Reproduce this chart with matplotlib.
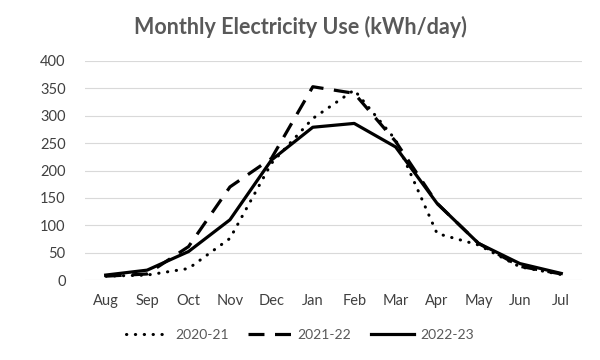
import matplotlib
matplotlib.use('Agg')
import matplotlib.pyplot as plt

# data
months = ['Aug', 'Sep', 'Oct', 'Nov', 'Dec', 'Jan', 'Feb', 'Mar', 'Apr', 'May', 'Jun', 'Jul']
y2021 = [7, 9, 21, 76, 213, 295, 347, 256, 85, 64, 24, 10]
y2122 = [7, 11, 61, 170, 222, 353, 341, 253, 140, 67, 25, 11]
y2223 = [9, 18, 52, 110, 219, 279, 286, 243, 140, 67, 30, 12]
yticks = [0, 50, 100, 150, 200, 250, 300, 350, 400]

plt.rcParams['font.family'] = ['Lato', 'DejaVu Sans']

fig = plt.figure(figsize=(6, 3.6), dpi=100)
ax = fig.add_axes([85 / 600, 1 - 280 / 360, 497 / 600, 219 / 360])

x = range(len(months))
ax.plot(x, y2021, color='black', lw=2.2, linestyle=(0, (0.1, 2.8)),
        dash_capstyle='round', label='2020-21')
ax.plot(x, y2122, color='black', lw=2.3, linestyle=(0, (5, 3.3)),
        label='2021-22')
ax.plot(x, y2223, color='black', lw=2.3, label='2022-23')

ax.set_xlim(-0.5, len(months) - 0.5)
ax.set_ylim(0, 400)
ax.set_yticks(yticks)
ax.set_xticks(list(x))
ax.set_xticklabels(months)
ax.yaxis.grid(True, color='#d9d9d9', lw=0.8)
ax.set_axisbelow(True)
for s in ax.spines.values():
    s.set_visible(False)
ax.tick_params(length=0, labelsize=10.5, labelcolor='#404040')
ax.tick_params(axis='x', pad=10)
ax.tick_params(axis='y', pad=14)

fig.suptitle('Monthly Electricity Use (kWh/day)', x=0.5, y=0.955,
             fontsize=15.5, fontweight='bold', color='#595959')

fig.legend(loc='center', bbox_to_anchor=(0.5, 1 - 335 / 360), ncol=3,
           frameon=False, fontsize=10, labelcolor='#595959',
           handlelength=3.1, columnspacing=1.4, handletextpad=0.45)

fig.savefig('out.png', dpi=100)
